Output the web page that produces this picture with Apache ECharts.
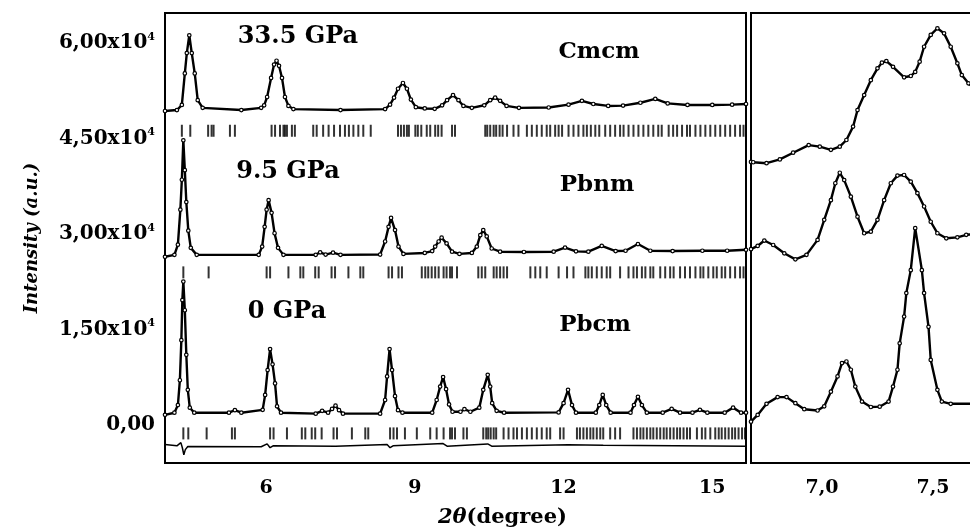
<!DOCTYPE html>
<html><head><meta charset="utf-8">
<script src="https://cdn.jsdelivr.net/npm/echarts@6/dist/echarts.min.js"></script>
<style>html,body{margin:0;padding:0;background:#fff}#c{width:970px;height:532px}</style>
</head><body><div id="c"></div>
<script>
// ---- tick labels ----
const xTicksMain = [6, 9, 12, 15];
const xTicksZoom = [7.0, 7.5];
const yTicks = [0, 15000, 30000, 45000, 60000];

// ---- phase / pressure labels ----
const pressures = ['33.5 GPa', '9.5 GPa', '0 GPa'];
const phases = ['Cmcm', 'Pbnm', 'Pbcm'];

// ---- patterns, main panel: [2theta, intensity] ----
const p335 = [[3.96,49300],[4.20,49450],[4.30,50250],[4.36,55200],[4.40,58400],[4.45,61200],[4.50,58400],[4.56,55200],[4.62,51000],[4.72,49800],[5.50,49450],[5.90,49800],[5.96,50200],[6.02,51500],[6.10,54500],[6.16,56600],[6.21,57200],[6.26,56400],[6.32,54500],[6.38,51500],[6.45,50100],[6.55,49600],[7.50,49450],[8.40,49600],[8.50,50300],[8.58,51400],[8.66,52800],[8.76,53700],[8.84,52800],[8.92,51100],[9.02,49900],[9.20,49700],[9.40,49650],[9.55,50200],[9.65,51000],[9.77,51800],[9.88,51000],[9.98,50100],[10.15,49800],[10.40,50200],[10.52,51000],[10.62,51400],[10.72,50900],[10.85,50100],[11.10,49800],[11.70,49850],[12.10,50300],[12.37,50900],[12.60,50400],[12.90,50100],[13.20,50150],[13.55,50600],[13.85,51200],[14.10,50500],[14.50,50250],[15.00,50250],[15.40,50300],[15.68,50400]];
const p95 = [[3.96,26400],[4.15,26700],[4.22,28300],[4.27,33800],[4.30,38500],[4.33,44700],[4.36,40000],[4.39,35000],[4.43,30500],[4.48,27800],[4.60,26700],[5.85,26700],[5.92,28000],[5.97,31100],[6.01,33800],[6.05,35300],[6.11,33300],[6.17,30100],[6.24,27800],[6.35,26700],[7.00,26700],[7.09,27100],[7.20,26750],[7.35,27050],[7.50,26700],[8.30,26750],[8.40,28800],[8.47,31100],[8.52,32500],[8.60,30600],[8.67,28000],[8.77,26850],[9.20,27000],[9.35,27300],[9.41,28000],[9.48,28800],[9.54,29400],[9.64,28500],[9.75,27200],[9.90,26850],[10.15,27000],[10.25,28000],[10.32,29800],[10.38,30600],[10.45,29600],[10.55,27700],[10.72,27200],[11.20,27150],[11.80,27200],[12.03,27850],[12.25,27250],[12.50,27200],[12.77,28100],[13.05,27300],[13.25,27350],[13.50,28400],[13.75,27350],[14.20,27300],[14.80,27350],[15.30,27350],[15.68,27500]];
const p0 = [[3.96,1570],[4.15,1900],[4.22,3100],[4.26,7000],[4.29,13300],[4.31,19600],[4.33,22500],[4.36,18000],[4.39,11000],[4.42,5500],[4.46,2700],[4.55,1900],[5.25,1900],[5.37,2300],[5.50,1900],[5.93,2350],[5.98,4700],[6.03,8600],[6.08,11900],[6.13,9500],[6.18,6500],[6.22,2900],[6.30,1900],[7.00,1750],[7.13,2200],[7.25,1900],[7.33,2500],[7.40,3000],[7.47,2300],[7.55,1750],[8.30,1750],[8.40,3900],[8.44,7600],[8.49,11900],[8.54,8600],[8.60,4500],[8.66,2300],[8.75,1900],[9.35,1900],[9.44,3900],[9.51,6000],[9.57,7500],[9.63,5600],[9.69,3200],[9.76,2050],[9.92,2050],[10.00,2450],[10.12,2050],[10.30,2700],[10.38,5500],[10.47,7850],[10.52,6000],[10.56,3400],[10.65,2200],[10.80,1900],[11.90,1950],[12.00,3400],[12.09,5500],[12.17,3100],[12.25,1900],[12.65,1900],[12.72,3100],[12.79,4700],[12.86,3100],[12.95,1900],[13.35,1900],[13.42,3100],[13.50,4400],[13.58,3100],[13.68,1900],[14.00,1900],[14.18,2500],[14.35,1900],[14.60,1900],[14.75,2350],[14.90,1900],[15.25,1900],[15.42,2700],[15.58,1900],[15.68,1900]];
const diff0 = [[3.96,-3100],[4.20,-3300],[4.28,-2800],[4.31,-3600],[4.34,-4700],[4.37,-3900],[4.42,-3400],[5.90,-3450],[6.02,-3000],[6.08,-3600],[6.14,-3300],[7.40,-3350],[8.44,-3100],[8.50,-3600],[8.56,-3300],[9.57,-2950],[9.65,-3350],[10.47,-3000],[10.55,-3350],[12.09,-3150],[12.80,-3200],[15.68,-3350]];

// ---- Bragg reflection positions (2theta) ----
const braggCmcm = [4.30,4.47,4.83,4.90,4.94,5.27,5.37,6.11,6.18,6.28,6.35,6.38,6.42,6.52,6.58,6.95,7.02,7.15,7.26,7.37,7.49,7.59,7.67,7.76,7.86,7.96,8.11,8.66,8.72,8.78,8.84,8.88,9.01,9.06,9.13,9.24,9.31,9.41,9.47,9.54,9.75,9.81,10.42,10.46,10.52,10.59,10.64,10.71,10.77,10.86,10.99,11.09,11.26,11.36,11.46,11.56,11.66,11.73,11.83,11.90,11.97,12.10,12.20,12.30,12.40,12.47,12.55,12.64,12.72,12.84,12.94,13.04,13.14,13.21,13.31,13.41,13.51,13.61,13.71,13.81,13.91,13.98,14.12,14.21,14.29,14.39,14.49,14.55,14.66,14.76,14.86,14.96,15.06,15.16,15.26,15.36,15.46,15.56,15.63];
const braggPbnm = [4.33,4.84,6.01,6.08,6.45,6.69,6.75,6.99,7.06,7.32,7.39,7.66,7.90,7.96,8.47,8.54,8.67,8.74,9.14,9.21,9.27,9.34,9.41,9.48,9.58,9.64,9.71,9.75,9.85,10.28,10.35,10.42,10.59,10.65,10.72,10.79,10.86,11.33,11.43,11.53,11.66,11.90,12.07,12.20,12.44,12.50,12.57,12.67,12.77,12.87,12.94,13.14,13.31,13.41,13.48,13.58,13.65,13.75,13.81,13.95,14.05,14.15,14.22,14.35,14.45,14.55,14.66,14.76,14.82,14.92,15.02,15.09,15.19,15.26,15.36,15.46,15.56,15.63];
const braggPbcm = [4.33,4.43,4.80,5.31,5.37,6.08,6.15,6.42,6.72,6.79,6.92,6.99,7.12,7.36,7.43,7.73,8.00,8.06,8.50,8.57,8.64,8.80,9.04,9.31,9.44,9.58,9.71,9.75,9.81,9.98,10.05,10.38,10.44,10.48,10.53,10.59,10.64,10.79,10.89,10.99,11.06,11.16,11.26,11.36,11.46,11.56,11.66,11.73,11.93,12.00,12.27,12.33,12.40,12.47,12.54,12.60,12.67,12.74,12.80,12.94,13.04,13.14,13.41,13.48,13.55,13.61,13.68,13.75,13.81,13.88,13.95,14.02,14.08,14.15,14.22,14.29,14.35,14.42,14.49,14.55,14.69,14.79,14.86,14.96,15.06,15.13,15.19,15.26,15.33,15.40,15.46,15.53,15.60,15.66];

// ---- patterns, zoomed panel ----
const z335 = [[6.68,41300],[6.69,41250],[6.75,41100],[6.81,41700],[6.87,42750],[6.94,43950],[6.99,43700],[7.04,43200],[7.08,43700],[7.11,44750],[7.14,46850],[7.16,49450],[7.19,51800],[7.22,54150],[7.25,56000],[7.27,56900],[7.29,57150],[7.32,56250],[7.37,54600],[7.40,54800],[7.42,55450],[7.44,57050],[7.46,59400],[7.49,61250],[7.52,62300],[7.55,61500],[7.58,59400],[7.61,56800],[7.63,54950],[7.66,53650],[7.71,52200]];
const z95 = [[6.68,27600],[6.71,28100],[6.74,28950],[6.78,28250],[6.83,26950],[6.88,26000],[6.93,26700],[6.98,29050],[7.01,32200],[7.04,35300],[7.06,37950],[7.08,39600],[7.10,38450],[7.13,35850],[7.16,32700],[7.19,30100],[7.22,30350],[7.25,32200],[7.28,35300],[7.31,37950],[7.34,39150],[7.37,39250],[7.40,38200],[7.43,36400],[7.46,34300],[7.49,31900],[7.52,30100],[7.56,29300],[7.61,29450],[7.65,29850],[7.71,30000]];
const z0 = [[6.68,500],[6.71,1550],[6.75,3300],[6.80,4350],[6.84,4350],[6.88,3400],[6.92,2450],[6.98,2250],[7.01,2900],[7.04,5200],[7.07,7600],[7.09,9700],[7.11,9950],[7.13,8650],[7.15,6000],[7.18,3650],[7.22,2800],[7.26,2850],[7.30,3650],[7.32,6000],[7.34,8650],[7.35,12800],[7.37,17000],[7.38,20700],[7.40,24300],[7.42,30900],[7.45,24300],[7.46,20700],[7.48,15400],[7.49,10200],[7.52,5500],[7.54,3650],[7.58,3300],[7.71,3300]];

// ---- build chart ----
const FONT = '"DejaVu Serif", "Liberation Serif", serif';
const chart = echarts.init(document.getElementById('c'), null, {renderer: 'canvas'});

function lineSeries(data, xi) {
  return {type: 'line', xAxisIndex: xi, yAxisIndex: xi, data: data, animation: false,
    showSymbol: true, symbol: 'circle', symbolSize: 3.5, silent: true,
    lineStyle: {color: '#000', width: 2.4}, itemStyle: {color: '#fff', borderColor: '#000', borderWidth: 1.2}, z: 3};
}
function braggSeries(pos, level) {
  return {type: 'scatter', xAxisIndex: 0, yAxisIndex: 0, animation: false, silent: true,
    symbol: 'rect', symbolSize: [2, 12], itemStyle: {color: '#000'},
    data: pos.map(function (p) { return [p, level]; })};
}
const yLevelCmcm = 46200, yLevelPbnm = 23950, yLevelPbcm = -1350;

function yFmt(v) {
  const r = Math.round(v);
  if (yTicks.indexOf(r) < 0) return '';
  if (r === 0) return '0,00';
  return (r / 10000).toFixed(2).replace('.', ',') + 'x10{s|4}';
}
function xFmtMain(v) {
  for (const t of xTicksMain) if (Math.abs(v - t) < 1e-6) return String(t);
  return '';
}
function xFmtZoom(v) {
  for (const t of xTicksZoom) if (Math.abs(v - t) < 1e-6) return t.toFixed(1).replace('.', ',');
  return '';
}

const labelStyle = {color: '#000', fontFamily: FONT, fontWeight: 'bold'};

const option = {
  backgroundColor: '#fff',
  animation: false,
  grid: [
    {left: 165, top: 13, width: 581, height: 450, show: true, borderColor: '#000', borderWidth: 2, backgroundColor: 'transparent', containLabel: false, outerBoundsMode: 'none'},
    {left: 751, top: 13, width: 229, height: 450, show: true, borderColor: '#000', borderWidth: 2, backgroundColor: 'transparent', containLabel: false, outerBoundsMode: 'none'}
  ],
  xAxis: [
    {type: 'value', gridIndex: 0, min: 3.96, max: 15.68, interval: 0.12,
      axisLine: {show: false}, axisTick: {show: false}, splitLine: {show: false},
      axisLabel: Object.assign({formatter: xFmtMain, fontSize: 19, margin: 16, showMinLabel: true, showMaxLabel: true}, labelStyle),
      name: '{i|2\u03B8}(degree)', nameLocation: 'middle', nameGap: 44,
      nameTextStyle: Object.assign({fontSize: 21, padding: [0, 0, 0, 94], rich: {i: {fontStyle: 'italic', fontWeight: 'bold', fontSize: 21, fontFamily: FONT, color: '#000'}}}, labelStyle)},
    {type: 'value', gridIndex: 1, min: 6.68, max: 7.712, interval: 0.02,
      axisLine: {show: false}, axisTick: {show: false}, splitLine: {show: false},
      axisLabel: Object.assign({formatter: xFmtZoom, fontSize: 19, margin: 16}, labelStyle)}
  ],
  yAxis: [
    {type: 'value', gridIndex: 0, min: -6000, max: 64700, interval: 1500,
      axisLine: {show: false}, axisTick: {show: false}, splitLine: {show: false},
      axisLabel: Object.assign({formatter: yFmt, fontSize: 20, margin: 10,
        rich: {s: {fontSize: 11, fontWeight: 'bold', fontFamily: FONT, color: '#000', padding: [0, 0, 12, 0]}}}, labelStyle),
      name: 'Intensity (a.u.)', nameLocation: 'middle', nameGap: 124,
      nameTextStyle: {color: '#000', fontFamily: FONT, fontStyle: 'italic', fontWeight: 'bold', fontSize: 18}},
    {type: 'value', gridIndex: 1, min: -6000, max: 64700,
      axisLine: {show: false}, axisTick: {show: false}, splitLine: {show: false}, axisLabel: {show: false}}
  ],
  graphic: [
    {type: 'text', x: 298, y: 37, style: {text: pressures[0], fill: '#000', font: 'bold 24px ' + FONT, align: 'center', verticalAlign: 'middle'}},
    {type: 'text', x: 599, y: 52, style: {text: phases[0], fill: '#000', font: 'bold 23px ' + FONT, align: 'center', verticalAlign: 'middle'}},
    {type: 'text', x: 288, y: 172, style: {text: pressures[1], fill: '#000', font: 'bold 24px ' + FONT, align: 'center', verticalAlign: 'middle'}},
    {type: 'text', x: 597, y: 185, style: {text: phases[1], fill: '#000', font: 'bold 23px ' + FONT, align: 'center', verticalAlign: 'middle'}},
    {type: 'text', x: 287, y: 312, style: {text: pressures[2], fill: '#000', font: 'bold 24px ' + FONT, align: 'center', verticalAlign: 'middle'}},
    {type: 'text', x: 595, y: 325, style: {text: phases[2], fill: '#000', font: 'bold 23px ' + FONT, align: 'center', verticalAlign: 'middle'}}
  ],
  series: [
    lineSeries(p335, 0), lineSeries(p95, 0), lineSeries(p0, 0),
    Object.assign(lineSeries(diff0, 0), {showSymbol: false, lineStyle: {color: '#000', width: 1.5}}),
    braggSeries(braggCmcm, yLevelCmcm), braggSeries(braggPbnm, yLevelPbnm), braggSeries(braggPbcm, yLevelPbcm),
    lineSeries(z335, 1), lineSeries(z95, 1), lineSeries(z0, 1)
  ]
};
chart.setOption(option);
</script></body></html>
